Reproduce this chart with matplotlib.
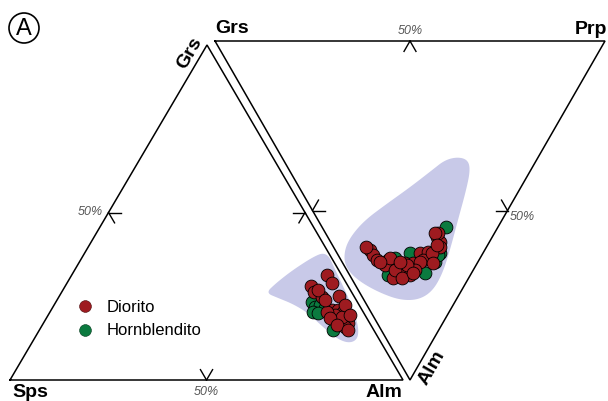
import numpy as np
import matplotlib
matplotlib.use("Agg")
import matplotlib.pyplot as plt
from matplotlib.patches import Polygon, Circle
from matplotlib.lines import Line2D

plt.rcParams['font.family'] = ['Liberation Sans', 'DejaVu Sans']

# ---------------- DATA (compositions in %) ----------------
# Left triangle: Alm - Grs - Sps
dio_left_alm = [65.0, 67.4, 62.5, 64.2, 67.0, 71.1, 71.5, 73.0, 74.6, 76.5, 77.5, 75.3,
                77.3, 73.0, 75.1, 70.5, 72.1, 75.0, 74.0, 76.8, 64.9, 68.2, 78.5]
dio_left_grs = [31.3, 29.0, 28.1, 26.3, 24.8, 25.1, 20.9, 20.9, 20.3, 18.5, 17.0, 17.3,
                15.8, 19.4, 18.8, 20.3, 18.5, 16.4, 22.4, 19.4, 26.9, 23.9, 14.9]
dio_left_sps = [3.7, 3.6, 9.4, 9.5, 8.2, 3.8, 7.6, 6.1, 5.1, 5.0, 5.5, 7.4,
                6.9, 7.6, 6.1, 9.2, 9.4, 8.6, 3.6, 3.8, 8.2, 7.9, 6.6]

hbl_left_alm = [65.2, 66.7, 67.7, 66.9, 69.4, 74.7, 68.3]
hbl_left_grs = [23.3, 21.8, 22.4, 20.3, 21.5, 14.9, 20.0]
hbl_left_sps = [11.5, 11.5, 9.9, 12.8, 9.1, 10.4, 11.7]

# Right triangle: Alm - Grs - Prp
dio_right_alm = [61.7, 63.1, 64.6, 64.6, 66.1, 65.5, 67.0, 65.5, 62.5, 62.2, 64.6, 65.2,
                 57.8, 59.3, 60.8, 56.6, 56.6, 68.1, 69.9, 69.0, 69.0, 67.6, 67.6, 62.5,
                 64.0, 69.9, 66.1, 65.5, 68.4, 60.8, 65.2, 60.2, 65.2]
dio_right_grs = [29.4, 28.0, 26.2, 23.3, 23.4, 18.5, 17.0, 16.5, 16.2, 14.3, 14.4, 14.8,
                 14.2, 12.6, 11.9, 14.5, 15.3, 19.1, 19.4, 17.3, 15.5, 14.9, 20.0, 13.1,
                 23.1, 17.1, 17.7, 11.3, 15.0, 30.9, 25.1, 13.0, 20.0]
dio_right_prp = [8.9, 8.9, 9.2, 12.1, 10.5, 16.0, 16.0, 18.0, 21.3, 23.5, 21.0, 20.0,
                 28.0, 28.1, 27.3, 28.9, 28.1, 12.8, 10.7, 13.7, 15.5, 17.5, 12.4, 24.4,
                 12.9, 13.0, 16.2, 23.2, 16.6, 8.3, 9.7, 26.8, 14.8]

hbl_right_alm = [54.9, 62.5, 62.5, 68.4, 64.0, 65.2, 69.0, 63.1]
hbl_right_grs = [13.3, 11.1, 18.8, 12.0, 21.8, 11.0, 21.2, 11.3]
hbl_right_prp = [31.8, 26.4, 18.7, 19.6, 14.2, 23.8, 9.8, 25.6]

# Compositional fields (outline vertices)
field_left_alm = [52.1, 53.1, 55.1, 57.4, 59.1, 60.6, 62.6, 65.0, 69.0, 73.6, 78.1, 81.3,
                  82.3, 80.5, 76.7, 71.3, 65.8, 60.6, 55.9]
field_left_grs = [26.0, 28.7, 32.2, 35.2, 37.0, 37.9, 37.0, 34.3, 29.9, 24.8, 19.4, 14.9,
                  11.9, 11.0, 12.5, 16.1, 20.0, 22.7, 24.5]
field_left_sps = [21.9, 18.2, 12.7, 7.4, 3.9, 1.5, 0.4, 0.7, 1.1, 1.6, 2.5, 3.8,
                  5.8, 8.5, 10.8, 12.6, 14.2, 16.7, 19.6]

field_right_alm = [65.2, 61.1, 57.2, 52.8, 48.4, 43.1, 38.1, 35.1, 34.2, 35.1, 38.1, 44.0,
                   52.8, 61.7, 69.0, 74.0, 76.4, 76.4, 74.3, 71.4, 68.4]
field_right_grs = [34.3, 36.1, 36.3, 35.1, 32.2, 28.4, 25.3, 23.5, 20.6, 17.6, 15.5, 13.6,
                   11.3, 8.9, 7.3, 7.4, 9.8, 14.4, 20.5, 26.6, 31.2]
field_right_prp = [0.5, 2.8, 6.5, 12.1, 19.4, 28.5, 36.6, 41.4, 45.2, 47.3, 46.4, 42.4,
                   35.9, 29.4, 23.7, 18.6, 13.8, 9.2, 5.2, 2.0, 0.4]

legend_labels = ["Diorito", "Hornblendito"]
tick_label = "50%"

# ---------------- STYLE / LAYOUT ----------------
RED = "#9E1B20"
GREEN = "#0B7A3F"
FIELD = "#C8C9E8"

# triangle vertices (pixel layout)
L_ALM, L_GRS, L_SPS = np.array([403, 380.]), np.array([207, 45.]), np.array([10, 380.])
R_ALM, R_GRS, R_PRP = np.array([410, 380.]), np.array([215, 41.]), np.array([605, 41.])


def tern(a, b, c, va, vb, vc):
    a, b, c = np.asarray(a, float), np.asarray(b, float), np.asarray(c, float)
    s = a + b + c
    a, b, c = a / s, b / s, c / s
    xy = np.outer(a, va) + np.outer(b, vb) + np.outer(c, vc)
    return xy[:, 0], xy[:, 1]


def smooth_closed(x, y, n=3):
    pts = np.column_stack([x, y])
    for _ in range(n):
        nxt = np.roll(pts, -1, axis=0)
        q = 0.75 * pts + 0.25 * nxt
        r = 0.25 * pts + 0.75 * nxt
        pts = np.empty((2 * len(q), 2))
        pts[0::2] = q
        pts[1::2] = r
    return pts


fig = plt.figure(figsize=(6.08, 4.01), dpi=100)
ax = fig.add_axes([0, 0, 1, 1])
ax.set_xlim(0, 608)
ax.set_ylim(401, 0)
ax.axis('off')

# fields
fx, fy = tern(field_left_alm, field_left_grs, field_left_sps, L_ALM, L_GRS, L_SPS)
ax.add_patch(Polygon(smooth_closed(fx, fy), closed=True, facecolor=FIELD, edgecolor='none', zorder=1))
fx, fy = tern(field_right_alm, field_right_grs, field_right_prp, R_ALM, R_GRS, R_PRP)
ax.add_patch(Polygon(smooth_closed(fx, fy), closed=True, facecolor=FIELD, edgecolor='none', zorder=1))

# triangles and ticks
def draw_triangle(v1, v2, v3, tick_len=12):
    pts = np.array([v1, v2, v3, v1])
    ax.plot(pts[:, 0], pts[:, 1], color='black', lw=1.1, zorder=2, solid_joinstyle='miter')
    for p, q, o in [(v1, v2, v3), (v2, v3, v1), (v3, v1, v2)]:
        m = (p + q) / 2
        for d in (o - p, o - q):
            d = d / np.linalg.norm(d) * tick_len
            ax.plot([m[0], m[0] + d[0]], [m[1], m[1] + d[1]], color='black', lw=1.0, zorder=2)

draw_triangle(L_SPS, L_ALM, L_GRS)
draw_triangle(R_GRS, R_PRP, R_ALM)

# points
MS = 85
x, y = tern(hbl_left_alm, hbl_left_grs, hbl_left_sps, L_ALM, L_GRS, L_SPS)
ax.scatter(x, y, s=MS, c=GREEN, edgecolors='black', linewidths=0.6, zorder=3)
x, y = tern(dio_left_alm, dio_left_grs, dio_left_sps, L_ALM, L_GRS, L_SPS)
ax.scatter(x, y, s=MS, c=RED, edgecolors='black', linewidths=0.6, zorder=4)
x, y = tern(hbl_right_alm, hbl_right_grs, hbl_right_prp, R_ALM, R_GRS, R_PRP)
ax.scatter(x, y, s=MS, c=GREEN, edgecolors='black', linewidths=0.6, zorder=3)
x, y = tern(dio_right_alm, dio_right_grs, dio_right_prp, R_ALM, R_GRS, R_PRP)
ax.scatter(x, y, s=MS, c=RED, edgecolors='black', linewidths=0.6, zorder=4)

# vertex labels
bold = dict(fontsize=14, fontweight='bold', color='black')
ax.text(215, 33, 'Grs', ha='left', va='baseline', **bold)
ax.text(607, 34, 'Prp', ha='right', va='baseline', **bold)
ax.text(12, 397, 'Sps', ha='left', va='baseline', **bold)
ax.text(402, 397, 'Alm', ha='right', va='baseline', **bold)
ax.text(190, 53, 'Grs', ha='center', va='center', rotation=60, rotation_mode='anchor', **bold)
ax.text(432, 368, 'Alm', ha='center', va='center', rotation=60, rotation_mode='anchor', **bold)

# 50% labels
lab = dict(fontsize=9, style='italic', color='#555555')
ax.text(410, 31, tick_label, ha='center', va='center', **lab)
ax.text(103, 212, tick_label, ha='right', va='center', **lab)
ax.text(206, 392, tick_label, ha='center', va='center', **lab)
ax.text(510, 217, tick_label, ha='left', va='center', **lab)

# panel letter
ax.add_patch(Circle((24, 28), 15, facecolor='none', edgecolor='black', lw=1.2))
ax.text(24, 29, 'A', ha='center', va='center', fontsize=17, color='black')

# legend
handles = [Line2D([], [], ls='none', marker='o', markersize=8.5, markerfacecolor=RED,
                  markeredgecolor='#4a0a0c', markeredgewidth=0.4),
           Line2D([], [], ls='none', marker='o', markersize=8.5, markerfacecolor=GREEN,
                  markeredgecolor='#043a1c', markeredgewidth=0.4)]
fig.legend(handles, legend_labels, loc='upper left', bbox_to_anchor=(77 / 608, 1 - 300 / 401),
           frameon=False, fontsize=12, handlelength=1.0, handletextpad=0.75,
           labelspacing=0.5, borderpad=0, borderaxespad=0)

fig.savefig('out.png', dpi=100)
